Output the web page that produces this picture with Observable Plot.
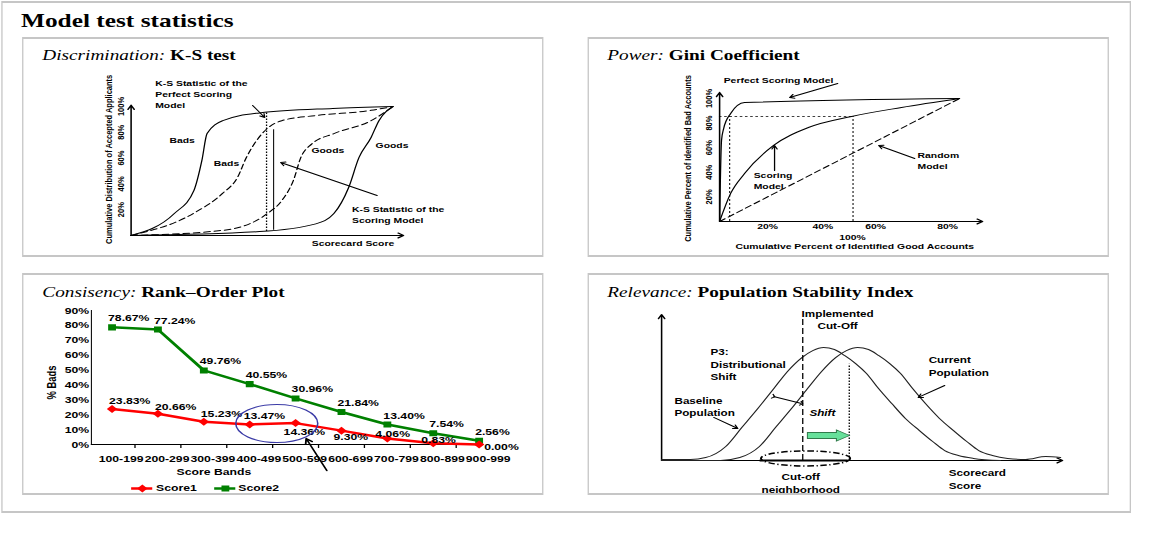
<!DOCTYPE html>
<html><head><meta charset="utf-8">
<script src="https://cdn.jsdelivr.net/npm/d3@7"></script>
<script src="https://cdn.jsdelivr.net/npm/@observablehq/plot@0.6"></script>
<style>
html,body{margin:0;padding:0;background:#fff;}
#page{position:absolute;left:0;top:0;width:888px;height:556px;transform:scaleX(1.3);transform-origin:0 0;}
.frame,.panel{position:absolute;box-sizing:border-box;border-style:solid;border-color:#c6c6c6;border-width:2px 1.5px;}
.panel{overflow:hidden;background:#fff;}
.panel svg{position:absolute;left:0;top:0;}
.ptitle{position:absolute;font-family:"Liberation Serif","Times New Roman",serif;font-size:14.8px;line-height:1;white-space:nowrap;color:#000;z-index:2;}
.ptitle i{font-weight:normal;}
#title{position:absolute;font-family:"Liberation Serif","Times New Roman",serif;font-weight:bold;font-size:19.5px;line-height:1;white-space:nowrap;color:#000;}
</style>
</head><body>
<div id="page"><div id="frame" class="frame"></div><div id="title">Model test statistics</div></div>
<script>
// ================= DATA =================
// Panel 1 — K-S test (x: scorecard score 0-100, y: cumulative %)
const ksPerfectBads  = [[0,0],[16.5,17],[24,35],[27,58],[29,79],[35,89],[49,95],[77,98.5],[100,100]];
const ksScoringBads  = [[0,0],[23.7,17],[34.9,32.6],[40.6,45],[44,60.5],[47.9,73.6],[52,83],[57.5,89],[70.5,93],[91.6,97],[100,100]];
const ksScoringGoods = [[0,0],[35,4],[52,17],[57.5,27],[62,43],[64.8,60.5],[69,71],[77.4,79],[91.6,89],[100,100]];
const ksPerfectGoods = [[0,0],[49,3],[70.5,9],[77.4,17],[83,37],[87,60.5],[91.6,76],[94.6,89],[100,100]];
const ksStatLines = [{kind:"perfect",x:51.7,y1:3,y2:96},{kind:"scoring",x:54.4,y1:4,y2:82}];
const ksYTicks = [20,40,60,80,100];
const ksYTitle = "Cumulative Distribution of Accepted Applicants";
const ksXTitle = "Scorecard Score";
const ksCurveLabels = [{text:"Bads",x:19.5,y:73.6},{text:"Bads",x:36.4,y:55.8},{text:"Goods",x:75.1,y:65.9},{text:"Goods",x:99.6,y:69.8}];
const ksNotes = [{text:"K-S Statistic of the\nPerfect Scoring\nModel",x:9.2,y:121.7},{text:"K-S Statistic of the\nScoring Model",x:84.3,y:24}];
const ksPointers = [{x1:46.4,y1:100.8,x2:51,y2:91.5},{x1:93.9,y1:31,x2:57.1,y2:56.6}];

// Panel 2 — Gini coefficient
const giniPerfect = [[0,0],[0.8,66],[1.7,75.6],[4.6,87.8],[10.4,96.7],[100,100]];
const giniScoring = [[0,0],[4.6,22.8],[10.4,39],[22.5,61.8],[37,76.4],[55,85.4],[75.8,92.7],[100,100]];
const giniRandom  = [[0,0],[100,100]];
const giniRefLevel = 85.4;
const giniRefX = [4.2, 55.6];
const giniXTickLabels = ["20%","40%","60%","80%"];
const giniXTickPos = [20,43,65,95];
const giniYTicks = [20,40,60,80,100];
const giniXTitle = "Cumulative Percent of Identified Good Accounts";
const giniYTitle = "Cumulative Percent of Identified Bad Accounts";
const giniNotes = [{text:"Perfect Scoring Model",x:1.7,y:118.5},{text:"Scoring\nModel",x:14.2,y:41.5},{text:"Random\nModel",x:82.5,y:57.7}];
const giniPointers = [{x1:49.2,y1:112.2,x2:29.2,y2:100.8},{x1:22.9,y1:41.5,x2:22.9,y2:61.8},{x1:81.3,y1:51.2,x2:66.3,y2:61.8}];

// Panel 3 — Rank-order plot
const bands  = ["100-199","200-299","300-399","400-499","500-599","600-699","700-799","800-899","900-999"];
const score1 = [23.83,20.66,15.23,13.47,14.36,9.30,4.06,0.83,0.00];
const score2 = [78.67,77.24,49.76,40.55,30.96,21.84,13.40,7.54,2.56];
const rankYTicks = [0,10,20,30,40,50,60,70,80,90];
const score1LabelShift = [[-3,-8],[-3,-7],[-3,-8],[-6,-8],[-12,9],[-8,6],[-12,-4],[-12,-3],[5,2]]; // page px
const score2LabelShift = [-4,-9];
const rankCircle = {x:3.59,y:14.1};
const rankPointer = {x1:4.68,y1:-17.5,x2:4.23,y2:4.0};

// Panel 4 — Population stability index
const psiBaseline = [[0,0.7],[7.2,0.7],[11,2],[16,9.6],[20,22.6],[24,35.6],[28,49.3],[31.4,61],[35,70.5],[37.7,75.3],[40.4,77.4],[43.1,76],[45.6,72],[48.4,66.4],[51.1,59.6],[54.1,49.3],[57.4,39],[60.8,28.8],[64.3,20.5],[67.6,13],[70.6,6.8],[74,3.4],[77.8,1.4],[84.5,0]];
const psiCurrent  = [[0,0],[14.7,0],[19.5,2],[24.4,9.6],[28.4,22.6],[32.4,35.6],[36.4,49.3],[39.9,61],[43.4,70.5],[46.1,75.3],[48.9,77.4],[51.6,76],[54.1,72],[56.9,66.4],[59.6,59.6],[62.6,49.3],[65.8,39],[69.3,28.8],[72.8,20.5],[76.1,13],[79.1,6.8],[82.5,3.4],[86.3,1.4],[90.8,0.7],[95.8,2.7],[99.5,2]];
const psiCutOff = {x:35.2,y1:0,y2:97};
const psiShifted = {x:46.8,y1:0,y2:66};
const psiShiftArrow = {x:41.6,y:17.1};
const psiNeighborhood = {x:35.9,y:1.4};
const psiNotes = [{text:"P3:\nDistributional\nShift",x:12.2,y:78.4},{text:"Baseline\nPopulation",x:3.2,y:45},{text:"Current\nPopulation",x:66.6,y:72.9},{text:"Scorecard\nScore",x:71.6,y:-4.5}];
const psiCentered = [{text:"Implemented\nCut-Off",x:43.9,y:104.5},{text:"Cut-off\nneighborhood",x:34.7,y:-7.2}];
const psiPointers = [{x1:13,y1:29.5,x2:19,y2:21.9},{x1:70.6,y1:51.4,x2:64,y2:43.2}];
const psiDoubleArrow = {x1:27.9,y1:43.8,x2:34.9,y2:39};

// ================= LAYOUT =================
const SX = 1.3;                 // the original picture is stretched horizontally
const FONT = "Arial, 'Liberation Sans', Helvetica, sans-serif";
const px = v => v / SX;
const page = document.getElementById("page");
Object.assign(document.getElementById("frame").style,{left:px(1)+"px",top:"1px",width:px(1130)+"px",height:"512px"});
Object.assign(document.getElementById("title").style,{left:px(21)+"px",top:"10.5px"});

function buildPanel(box, titleHtml, xs, ys, marks) {
  const div = document.createElement("div");
  div.className = "panel";
  Object.assign(div.style,{left:px(box.L)+"px",top:box.T+"px",width:px(box.W)+"px",height:box.H+"px"});
  const ox = box.L + 1.5*SX, oy = box.T + 2;
  const svg = Plot.plot({
    width: px(box.W) - 3, height: box.H - 4,
    marginTop:0, marginRight:0, marginBottom:0, marginLeft:0,
    x:{type:"linear", domain:xs.domain, range:xs.px.map(v => px(v - ox)), axis:null},
    y:{type:"linear", domain:ys.domain, range:ys.px.map(v => v - oy), axis:null},
    style:{background:"transparent", fontFamily:FONT, fontWeight:"bold", color:"#000"},
    marks
  });
  div.appendChild(svg);
  const t = document.createElement("div");
  t.className = "ptitle"; t.innerHTML = titleHtml;
  Object.assign(t.style,{left:px(box.titleX - ox)+"px", top:(box.titleTop - oy)+"px"});
  div.appendChild(t);
  page.appendChild(div);
}

const curve = (data, o={}) => Plot.line(data,{x:d=>d[0],y:d=>d[1],curve:"monotone-x",stroke:"#000",strokeWidth:1,...o});
const arrows = (data, o={}) => Plot.arrow(data,{x1:"x1",y1:"y1",x2:"x2",y2:"y2",stroke:"#000",strokeWidth:1,headLength:6,...o});
const ellipse = (rx, ry) => ({draw(ctx){const k=0.5523;ctx.moveTo(rx,0);ctx.bezierCurveTo(rx,ry*k,rx*k,ry,0,ry);ctx.bezierCurveTo(-rx*k,ry,-rx,ry*k,-rx,0);ctx.bezierCurveTo(-rx,-ry*k,-rx*k,-ry,0,-ry);ctx.bezierCurveTo(rx*k,-ry,rx,-ry*k,rx,0);ctx.closePath();}});
const blockArrow = (len, body, head, headLen) => ({draw(ctx){const h=len/2, b=h-headLen;ctx.moveTo(-h,-body);ctx.lineTo(b,-body);ctx.lineTo(b,-head);ctx.lineTo(h,0);ctx.lineTo(b,head);ctx.lineTo(b,body);ctx.lineTo(-h,body);ctx.closePath();}});

// ---------- Panel 1 ----------
buildPanel({L:22,T:37,W:522,H:220,titleX:43,titleTop:48.4},
  "<i>Discrimination:</i><b> K-S test</b>",
  {domain:[0,100],px:[131,393]},{domain:[0,100],px:[235,106]},
  [
    arrows([{x1:0,y1:0,x2:104,y2:0},{x1:0,y1:0,x2:0,y2:101}],{strokeWidth:1.2}),
    curve(ksPerfectBads),
    curve(ksScoringBads,{strokeDasharray:"5,3"}),
    curve(ksScoringGoods,{strokeDasharray:"5,3"}),
    curve(ksPerfectGoods),
    Plot.ruleX(ksStatLines.filter(d=>d.kind==="perfect"),{x:"x",y1:"y1",y2:"y2",stroke:"#000",strokeDasharray:"1.5,1.5"}),
    Plot.ruleX(ksStatLines.filter(d=>d.kind==="scoring"),{x:"x",y1:"y1",y2:"y2",stroke:"#000",strokeWidth:0.8}),
    Plot.text(ksYTicks,{x:-3.8,y:d=>d,text:d=>d+"%",rotate:-90,fontSize:7.5}),
    Plot.text([ksYTitle],{x:-8.4,y:59,text:d=>d,rotate:-90,fontSize:7.5}),
    Plot.text([ksXTitle],{x:84.7,y:-6.4,text:d=>d,fontSize:8}),
    Plot.text(ksCurveLabels,{x:"x",y:"y",text:"text",fontSize:8}),
    Plot.text(ksNotes,{x:"x",y:"y",text:"text",textAnchor:"start",lineAnchor:"top",lineHeight:1.35,fontSize:8}),
    arrows(ksPointers)
  ]);

// ---------- Panel 2 ----------
buildPanel({L:587,T:37,W:522,H:220,titleX:608,titleTop:48.4},
  "<i>Power:</i><b> Gini Coefficient</b>",
  {domain:[0,100],px:[719,959]},{domain:[0,100],px:[221,98]},
  [
    arrows([{x1:0,y1:0,x2:109.6,y2:0},{x1:0,y1:0,x2:0,y2:104.9}],{strokeWidth:1.2}),
    Plot.ruleY([giniRefLevel],{x1:0,x2:giniRefX[1],stroke:"#000",strokeDasharray:"2,2",strokeWidth:0.8}),
    Plot.ruleX(giniRefX,{x:d=>d,y1:0,y2:giniRefLevel,stroke:"#000",strokeDasharray:"2,2",strokeWidth:0.8}),
    curve(giniRandom,{curve:"linear",strokeDasharray:"5,3"}),
    curve(giniScoring),
    curve(giniPerfect),
    Plot.text(giniXTickLabels,{x:(d,i)=>giniXTickPos[i],y:-4.1,text:d=>d,fontSize:8}),
    Plot.text(["100%"],{x:55.4,y:-13,text:d=>d,fontSize:8}),
    Plot.text([giniXTitle],{x:56.3,y:-20.3,text:d=>d,fontSize:8}),
    Plot.text(giniYTicks,{x:-4.6,y:d=>d,text:d=>d+"%",rotate:-90,fontSize:7.5}),
    Plot.text([giniYTitle],{x:-13.3,y:51.2,text:d=>d,rotate:-90,fontSize:7.5}),
    Plot.text(giniNotes,{x:"x",y:"y",text:"text",textAnchor:"start",lineAnchor:"top",lineHeight:1.35,fontSize:8}),
    arrows(giniPointers)
  ]);

// ---------- Panel 3 ----------
const bandPx = (502-89)/9, pctPx = (444-310)/90;
const rows1 = score1.map((v,i)=>({i,v,label:v.toFixed(2)+"%",lx:i+score1LabelShift[i][0]/bandPx,ly:v-score1LabelShift[i][1]/pctPx}));
const rows2 = score2.map((v,i)=>({i,v,label:v.toFixed(2)+"%"}));
const legend = [{name:"Score1",color:"#ff0000",x1:0.43,x2:0.89,xm:0.66,xt:0.96},
                {name:"Score2",color:"#008000",x1:2.24,x2:2.70,xm:2.47,xt:2.75}];
const legendY = -29.5;
buildPanel({L:22,T:273,W:522,H:222,titleX:43,titleTop:285.4},
  "<i>Consisency:</i><b> Rank–Order Plot</b>",
  {domain:[-0.5,8.5],px:[89,502]},{domain:[0,90],px:[444,310]},
  [
    Plot.ruleY([0],{x1:-0.45,x2:8.1,stroke:"#000",strokeWidth:1}),
    Plot.ruleX([-0.45],{y1:0,y2:90,stroke:"#000",strokeWidth:0.8}),
    Plot.ruleX(bands.map((_,i)=>i-0.5).filter(v=>v>0),{x:d=>d,y1:0,y2:-2.7,stroke:"#000"}),
    Plot.text(rankYTicks,{x:-0.5,y:d=>d,text:d=>d+"%",textAnchor:"end",fontSize:9.4}),
    Plot.text(bands,{x:(d,i)=>i,y:-9.4,text:d=>d,dx:7,fontSize:9.4}),
    Plot.text(["Score Bands"],{x:2.22,y:-18.8,text:d=>d,fontSize:9.4}),
    Plot.text(["% Bads"],{x:-1.31,y:41.6,text:d=>d,rotate:-90,fontSize:9.4}),
    Plot.line(rows2,{x:"i",y:"v",stroke:"#008000",strokeWidth:2.5}),
    Plot.dot(rows2,{x:"i",y:"v",symbol:"square",r:3.4,fill:"#008000"}),
    Plot.line(rows1,{x:"i",y:"v",stroke:"#ff0000",strokeWidth:2.5}),
    Plot.dot(rows1,{x:"i",y:"v",symbol:"diamond2",r:3.6,fill:"#ff0000"}),
    Plot.text(rows2,{x:"i",y:"v",text:"label",textAnchor:"start",dx:px(score2LabelShift[0]),dy:score2LabelShift[1],fontSize:9.4}),
    Plot.text(rows1,{x:"lx",y:"ly",text:"label",textAnchor:"start",fontSize:9.4}),
    Plot.dot([rankCircle],{x:"x",y:"y",symbol:ellipse(px(41),19),fill:"none",stroke:"#3a3aa6",strokeWidth:1.2}),
    arrows([rankPointer],{strokeWidth:1.4}),
    Plot.ruleY(legend,{x1:"x1",x2:"x2",y:legendY,stroke:"color",strokeWidth:2.5}),
    Plot.dot(legend.slice(0,1),{x:"xm",y:legendY,symbol:"diamond2",r:3.6,fill:"color"}),
    Plot.dot(legend.slice(1),{x:"xm",y:legendY,symbol:"square",r:3.4,fill:"color"}),
    Plot.text(legend,{x:"xt",y:legendY,text:"name",textAnchor:"start",fontSize:9.4})
  ]);

// ---------- Panel 4 ----------
buildPanel({L:587,T:273,W:522,H:222,titleX:608,titleTop:285.4},
  "<i>Relevance:</i><b> Population Stability Index</b>",
  {domain:[0,100],px:[661,1062]},{domain:[0,100],px:[460,314]},
  [
    arrows([{x1:0,y1:0,x2:100,y2:0},{x1:0,y1:0,x2:0,y2:100}],{strokeWidth:1.2}),
    Plot.ruleY([0],{x1:24.6,x2:46.6,stroke:"#000",strokeWidth:2}),
    curve(psiBaseline,{stroke:"#222"}),
    curve(psiCurrent,{stroke:"#222"}),
    Plot.ruleX([psiCutOff],{x:"x",y1:"y1",y2:"y2",stroke:"#000",strokeDasharray:"6,3"}),
    Plot.ruleX([psiShifted],{x:"x",y1:"y1",y2:"y2",stroke:"#000",strokeDasharray:"1.5,1.5"}),
    Plot.dot([psiNeighborhood],{x:"x",y:"y",symbol:ellipse(px(44.6),7.5),fill:"none",stroke:"#000",strokeDasharray:"5,2,1,2"}),
    Plot.dot([psiShiftArrow],{x:"x",y:"y",symbol:blockArrow(px(42),3,5.5,px(13)),fill:"#66e09a",stroke:"#2f7a4a",strokeWidth:0.8}),
    Plot.text(["Shift"],{x:40.1,y:32.2,text:d=>d,fontStyle:"italic",fontSize:9}),
    Plot.text(psiNotes,{x:"x",y:"y",text:"text",textAnchor:"start",lineAnchor:"top",lineHeight:1.4,fontSize:9}),
    Plot.text(psiCentered,{x:"x",y:"y",text:"text",lineAnchor:"top",lineHeight:1.4,fontSize:9}),
    arrows(psiPointers),
    Plot.link([psiDoubleArrow],{x1:"x1",y1:"y1",x2:"x2",y2:"y2",stroke:"#000",markerStart:"arrow",markerEnd:"arrow"})
  ]);
</script>
</body></html>
